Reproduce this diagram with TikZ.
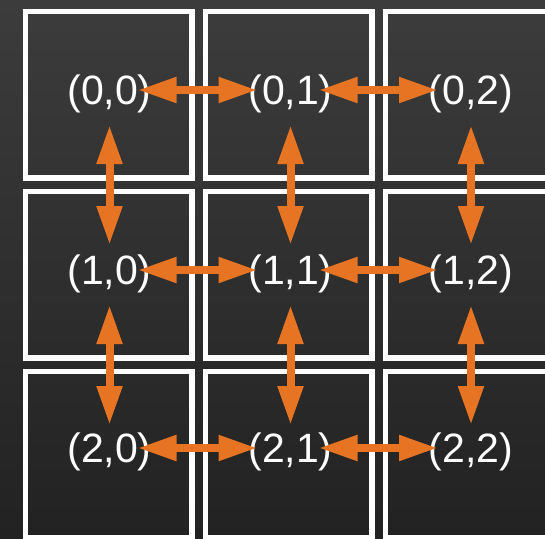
\documentclass[tikz,border=0pt]{standalone}
\usepackage{fontspec}
\setmainfont{Liberation Sans}
\usetikzlibrary{arrows.meta}
\definecolor{arrorange}{RGB}{230,116,34}
\definecolor{bgtop}{RGB}{60,60,60}
\definecolor{bgbot}{RGB}{34,34,34}
\begin{document}
\begin{tikzpicture}[x=1pt,y=-1pt,
  cell/.style={draw=white,line width=5.5pt},
  lbl/.style={text=white,font=\fontsize{41}{41}\selectfont,inner sep=0pt,text height=29.4pt,text depth=0pt},
  arr/.style={draw=arrorange,line width=8pt,{Triangle[length=39pt,width=24pt]}-{Triangle[length=39pt,width=24pt]}}]
\useasboundingbox (0,0) rectangle (545,538);
\clip (0,0) rectangle (545,538);
\shade[top color=bgtop,bottom color=bgbot] (0,0) rectangle (545,538);
\foreach \c in {0,1,2}{
  \foreach \r in {0,1,2}{
    \draw[cell] (25.5+180*\c,11.5+180*\r) rectangle ++(166.5,166.5);
  }
}
\foreach \r/\y in {0/90,1/270,2/448}{
  \foreach \c/\x in {0/109.5,1/290.5,2/471}{
    \node[lbl] (n\r\c) at (\x,\y) {(\r,\c)};
  }
}
\foreach \r in {0,1,2}{
  \draw[arr] ([xshift=28pt]n\r0.center) -- ([xshift=-33pt]n\r1.center);
  \draw[arr] ([xshift=28pt]n\r1.center) -- ([xshift=-33pt]n\r2.center);
}
\foreach \c in {0,1,2}{
  \draw[arr] ([yshift=-35pt]n0\c.center) -- ([yshift=25pt]n1\c.center);
  \draw[arr] ([yshift=-35pt]n1\c.center) -- ([yshift=23pt]n2\c.center);
}
\end{tikzpicture}
\end{document}
